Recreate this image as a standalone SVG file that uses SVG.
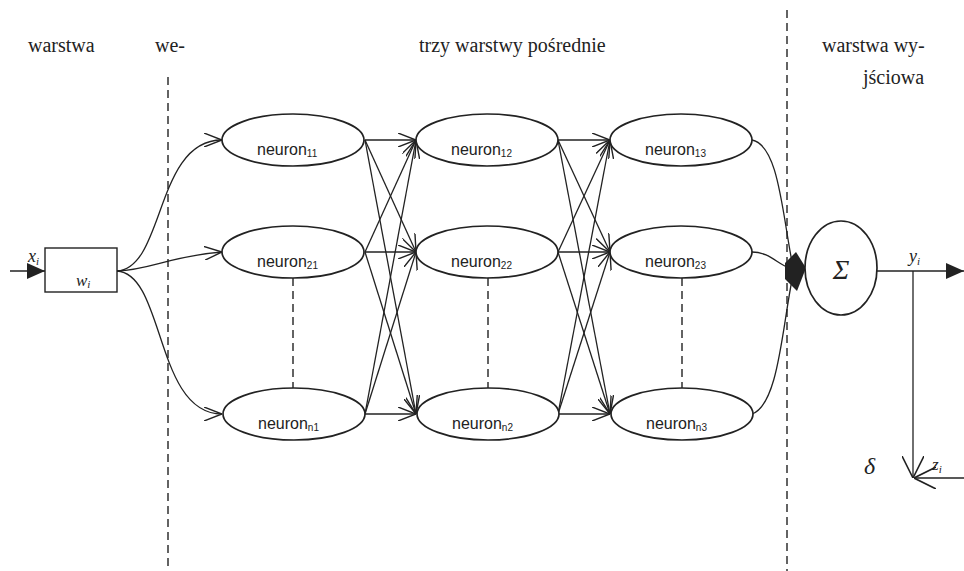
<svg xmlns="http://www.w3.org/2000/svg" width="964" height="571" viewBox="0 0 964 571">
<style>
.t{font-family:"Liberation Serif","Times New Roman",serif;font-size:20px;fill:#222}
.n{font-family:"Liberation Sans",Arial,sans-serif;font-size:16px;fill:#222}
.sub{font-size:10px}
.it{font-family:"Liberation Serif","Times New Roman",serif;font-style:italic;fill:#222}
.el{fill:#fff;stroke:#222;stroke-width:1.7}
.c{fill:none;stroke:#222;stroke-width:1.3}
.d{fill:none;stroke:#222;stroke-width:1.4;stroke-dasharray:8,5}
</style>
<defs>
<marker id="oa" viewBox="0 0 18 14" refX="18" refY="7" markerWidth="18" markerHeight="14" markerUnits="userSpaceOnUse" orient="auto">
<path d="M0,0 L18,7 L0,14" fill="none" stroke="#222" stroke-width="1.4"/>
</marker>
<marker id="ob" viewBox="0 0 22 22" refX="22" refY="11" markerWidth="22" markerHeight="22" markerUnits="userSpaceOnUse" orient="auto">
<path d="M0,0 L22,11 L0,22" fill="none" stroke="#222" stroke-width="1.6"/>
</marker>
<marker id="fa" viewBox="0 0 18 16" refX="18" refY="8" markerWidth="18" markerHeight="16" markerUnits="userSpaceOnUse" orient="auto">
<path d="M0,0 L18,8 L0,16 Z" fill="#222"/>
</marker>
</defs>

<g id="labels">
<text class="t" x="28" y="52">warstwa</text>
<text class="t" x="155" y="52">we-</text>
<text class="t" x="419" y="52">trzy warstwy pośrednie</text>
<text class="t" x="822" y="52">warstwa wy-</text>
<text class="t" x="863" y="84">jściowa</text>
</g>

<g id="separators">
<line class="d" x1="168" y1="77" x2="168" y2="571"/>
<line class="d" x1="787" y1="10" x2="787" y2="571"/>
</g>

<g id="connectors">
<line class="c" x1="10" y1="271" x2="45" y2="271" marker-end="url(#fa)"/>
<path class="c" d="M117,271 C165,268 155,140 222,140" marker-end="url(#oa)"/>
<path class="c" d="M117,271 C150,270 170,256 222,252" marker-end="url(#oa)"/>
<path class="c" d="M117,271 C165,274 155,414 222,414" marker-end="url(#oa)"/>

<line class="c" x1="365" y1="140" x2="416" y2="140" marker-end="url(#oa)"/>
<line class="c" x1="365" y1="140" x2="416" y2="252" marker-end="url(#oa)"/>
<line class="c" x1="365" y1="140" x2="416" y2="414" marker-end="url(#oa)"/>
<line class="c" x1="365" y1="252" x2="416" y2="140" marker-end="url(#oa)"/>
<line class="c" x1="365" y1="252" x2="416" y2="252" marker-end="url(#oa)"/>
<line class="c" x1="365" y1="252" x2="416" y2="414" marker-end="url(#oa)"/>
<line class="c" x1="365" y1="414" x2="416" y2="140" marker-end="url(#oa)"/>
<line class="c" x1="365" y1="414" x2="416" y2="252" marker-end="url(#oa)"/>
<line class="c" x1="365" y1="414" x2="416" y2="414" marker-end="url(#oa)"/>

<line class="c" x1="558" y1="140" x2="610" y2="140" marker-end="url(#oa)"/>
<line class="c" x1="558" y1="140" x2="610" y2="252" marker-end="url(#oa)"/>
<line class="c" x1="558" y1="140" x2="610" y2="414" marker-end="url(#oa)"/>
<line class="c" x1="558" y1="252" x2="610" y2="140" marker-end="url(#oa)"/>
<line class="c" x1="558" y1="252" x2="610" y2="252" marker-end="url(#oa)"/>
<line class="c" x1="558" y1="252" x2="610" y2="414" marker-end="url(#oa)"/>
<line class="c" x1="558" y1="414" x2="610" y2="140" marker-end="url(#oa)"/>
<line class="c" x1="558" y1="414" x2="610" y2="252" marker-end="url(#oa)"/>
<line class="c" x1="558" y1="414" x2="610" y2="414" marker-end="url(#oa)"/>

<line class="d" x1="293" y1="278" x2="293" y2="388"/>
<line class="d" x1="488" y1="278" x2="488" y2="388"/>
<line class="d" x1="682" y1="278" x2="682" y2="388"/>

<path class="c" d="M752,140 C778,145 782,210 792,262"/>
<path class="c" d="M752,252 C770,252 778,265 790,268"/>
<path class="c" d="M752,414 C778,405 782,330 792,280"/>
<path d="M785,263 L796,252 L806,268 L797,291 L785,279 Z" fill="#222"/>

<line class="c" x1="877" y1="271" x2="964" y2="271" marker-end="url(#fa)"/>
<line class="c" x1="913" y1="271" x2="913" y2="478" marker-end="url(#ob)"/>
<line class="c" x1="964" y1="478" x2="914" y2="478" marker-end="url(#ob)"/>
</g>

<g id="weight">
<rect x="45" y="248" width="72" height="44" fill="#fff" stroke="#222" stroke-width="1.4"/>
<text class="it" x="76" y="286" font-size="17">w<tspan font-size="11" dy="2">i</tspan></text>
<text class="it" x="28" y="262" font-size="18">x<tspan font-size="11" dy="3">i</tspan></text>
</g>

<g id="n11"><ellipse class="el" cx="293" cy="140" rx="71" ry="26"/><text class="n" x="257" y="155">neuron<tspan class="sub" dy="2">11</tspan></text></g>
<g id="n21"><ellipse class="el" cx="293" cy="252" rx="71" ry="26"/><text class="n" x="257" y="267">neuron<tspan class="sub" dy="2">21</tspan></text></g>
<g id="nn1"><ellipse class="el" cx="294" cy="414" rx="71" ry="26"/><text class="n" x="258" y="429">neuron<tspan class="sub" dy="2">n1</tspan></text></g>

<g id="n12"><ellipse class="el" cx="487" cy="140" rx="71" ry="26"/><text class="n" x="451" y="155">neuron<tspan class="sub" dy="2">12</tspan></text></g>
<g id="n22"><ellipse class="el" cx="487" cy="252" rx="71" ry="26"/><text class="n" x="451" y="267">neuron<tspan class="sub" dy="2">22</tspan></text></g>
<g id="nn2"><ellipse class="el" cx="488" cy="414" rx="71" ry="26"/><text class="n" x="452" y="429">neuron<tspan class="sub" dy="2">n2</tspan></text></g>

<g id="n13"><ellipse class="el" cx="681" cy="140" rx="71" ry="26"/><text class="n" x="645" y="155">neuron<tspan class="sub" dy="2">13</tspan></text></g>
<g id="n23"><ellipse class="el" cx="681" cy="252" rx="71" ry="26"/><text class="n" x="645" y="267">neuron<tspan class="sub" dy="2">23</tspan></text></g>
<g id="nn3"><ellipse class="el" cx="682" cy="414" rx="71" ry="26"/><text class="n" x="646" y="429">neuron<tspan class="sub" dy="2">n3</tspan></text></g>

<g id="sum">
<ellipse class="el" cx="841" cy="268" rx="36" ry="47"/>
<text class="it" x="841" y="279" font-size="28" text-anchor="middle">Σ</text>
</g>

<g id="outputs">
<text class="it" x="909" y="262" font-size="18">y<tspan font-size="11" dy="3">i</tspan></text>
<text class="it" x="932" y="470" font-size="17">z<tspan font-size="11" dy="3">i</tspan></text>
<text class="it" x="864" y="474" font-size="24">δ</text>
</g>
</svg>
